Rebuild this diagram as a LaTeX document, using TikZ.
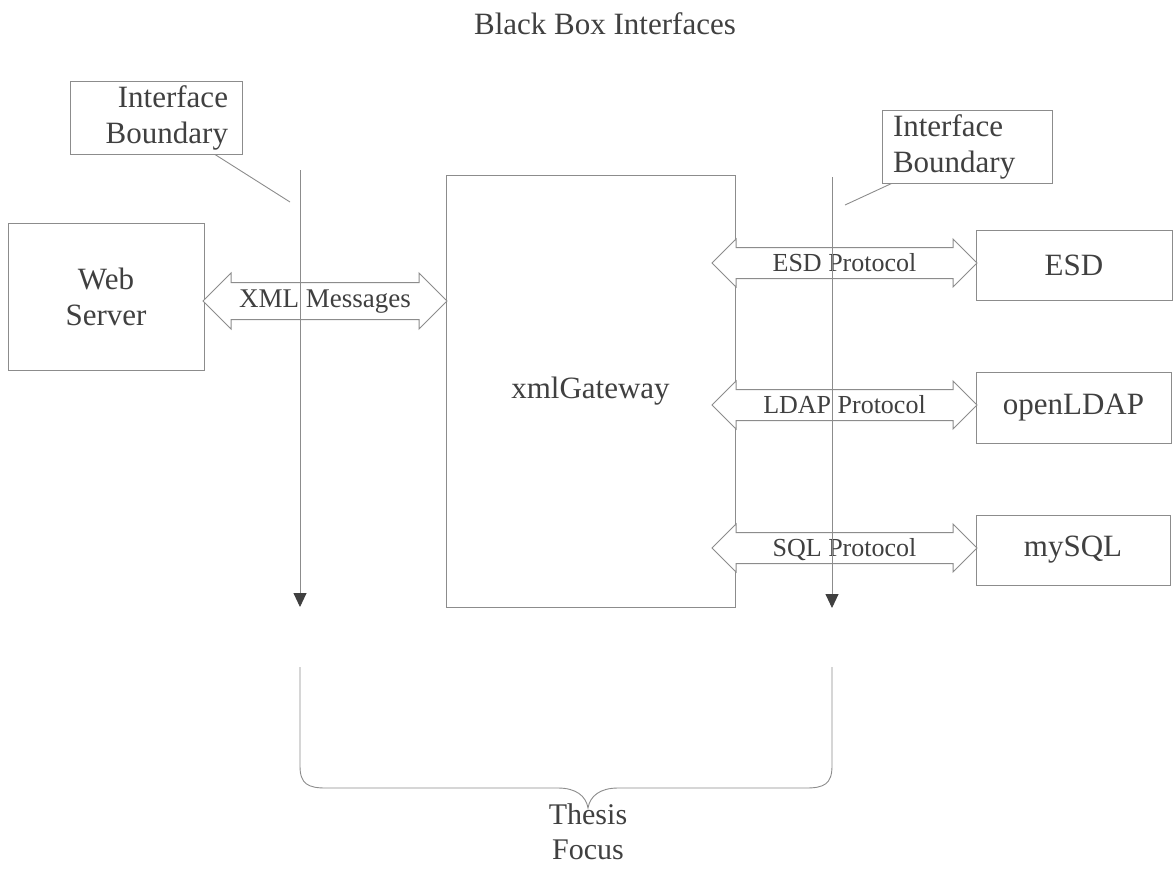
\documentclass[tikz,border=0pt]{standalone}
\usepackage{fontspec}
\setmainfont{Liberation Serif}
\usetikzlibrary{shapes.arrows, arrows.meta}
\newcommand*{\bndL}{300}
\newcommand*{\bndR}{832}
\newcommand*{\protoX}{844.5}
\newcommand*{\brY}{788}
\definecolor{inkgray}{HTML}{404040}
\definecolor{linegray}{HTML}{8C8C8C}

\begin{document}
\begin{tikzpicture}[x=1pt, y=-1pt, font=\fontsize{31}{36}\selectfont, text=inkgray,
    boxed/.style={draw=linegray, line width=1pt, fill=white, inner sep=0pt, align=center},
    twoway/.style={double arrow, draw=linegray, line width=1pt, fill=white, inner xsep=0pt,
        double arrow head extend=8.5pt, minimum height=265pt, minimum width=47pt,
        text height=17pt, text depth=0pt, inner ysep=6.5pt, font=\fontsize{26}{30}\selectfont},
    bndline/.style={draw=linegray, line width=0.9pt},
    bndarrow/.style={bndline, -{Triangle[width=13pt, length=14pt, color=inkgray]}}]
    \useasboundingbox (0,0) rectangle (1175,868);
    \node [anchor=base] (title) at (605,34) {Black Box Interfaces};
    % boxes
    \node [boxed, minimum width=289pt, minimum height=432pt] (gateway) at (590.5,391) {xmlGateway};
    \node [boxed, minimum width=196pt, minimum height=147pt] (web) at (106,296.5) {Web\\Server};
    \node [boxed, minimum width=196pt, minimum height=70pt] (esd) at (1074,265) {ESD};
    \node [boxed, minimum width=195pt, minimum height=71pt] (ldap) at (1073.5,407.5) {openLDAP};
    \node [boxed, minimum width=194pt, minimum height=70pt] (sql) at (1073,550) {mySQL};
    % double arrows
    \node [twoway, minimum height=244pt, minimum width=55pt, inner ysep=6.5pt,
        text height=18pt, text depth=5pt, double arrow head extend=9.5pt,
        font=\fontsize{27}{30}\selectfont] (xml) at (325,301) {XML Messages};
    \node [twoway] (esdproto) at (\protoX,263) {ESD Protocol};
    \node [twoway] (ldapproto) at (\protoX,405) {LDAP Protocol};
    \node [twoway] (sqlproto) at (\protoX,548) {SQL Protocol};
    % interface boundaries
    \coordinate (leftTop) at (\bndL,170);
    \coordinate (leftEnd) at (\bndL,607);
    \coordinate (rightTop) at (\bndR,177);
    \coordinate (rightEnd) at (\bndR,608);
    \draw [bndarrow] (leftTop) -- (leftEnd);
    \draw [bndarrow] (rightTop) -- (rightEnd);
    % callouts
    \node [boxed, minimum width=172pt, minimum height=73pt, text width=144pt, align=right]
        (calloutL) at (156,117.5) {Interface\\Boundary};
    \coordinate (leadL) at (290,202);
    \draw [bndline] ([xshift=59pt]calloutL.south) -- (leadL);
    \node [boxed, minimum width=170pt, minimum height=73pt, text width=148pt, align=left]
        (calloutR) at (967,146.5) {Interface\\Boundary};
    \coordinate (leadR) at (845,205);
    \draw [bndline] ([xshift=10pt]calloutR.south west) -- (leadR);
    % thesis focus brace
    \draw [bndline] (\bndL,667) -- (\bndL,766) .. controls (\bndL,784) and (308,\brY) .. (326,\brY)
        -- (558,\brY) .. controls (576,\brY) and (586,796) .. (588,808)
        .. controls (590,796) and (600,\brY) .. (618,\brY) -- (806,\brY)
        .. controls (824,\brY) and (\bndR,784) .. (\bndR,766) -- (\bndR,667);
    \node [align=center, font=\fontsize{30}{35}\selectfont] (focus) at (588,832) {Thesis\\Focus};
\end{tikzpicture}
\end{document}
